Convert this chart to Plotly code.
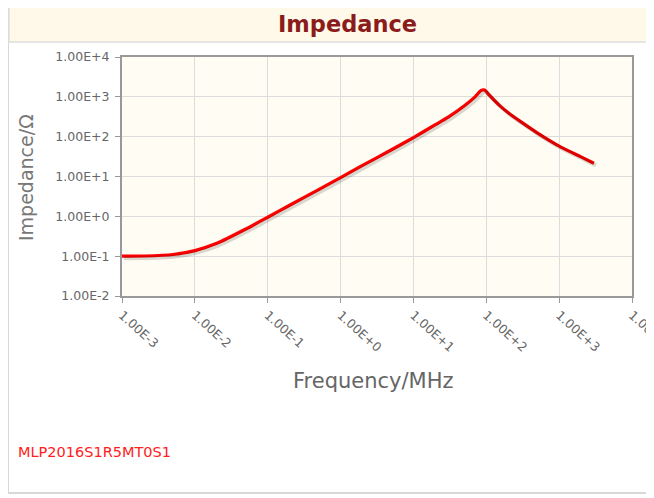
import plotly.graph_objects as go

# Data (frequency in MHz, impedance in ohm)
freq_mhz = [0.001, 0.002, 0.005, 0.01, 0.02, 0.05, 0.1, 0.2, 0.5, 1, 2, 5, 10, 20, 30,
            50, 70, 85, 95, 110, 150, 200, 300, 500, 1000, 2000, 3000]
impedance = [0.1, 0.101, 0.11, 0.138, 0.21, 0.48, 0.95, 1.9, 4.7, 9.4, 19, 47, 95, 200, 310,
             600, 1000, 1450, 1480, 1100, 620, 400, 235, 125, 58, 31, 21.5]

x_tick_vals = [1e-3, 1e-2, 1e-1, 1e0, 1e1, 1e2, 1e3, 1e4]
x_tick_text = ["1.00E-3", "1.00E-2", "1.00E-1", "1.00E+0", "1.00E+1", "1.00E+2", "1.00E+3", "1.00E+4"]
y_tick_vals = [1e-2, 1e-1, 1e0, 1e1, 1e2, 1e3, 1e4]
y_tick_text = ["1.00E-2", "1.00E-1", "1.00E+0", "1.00E+1", "1.00E+2", "1.00E+3", "1.00E+4"]

# page body has an 8px margin; work in page coordinates and compensate
OFF = 8
W, H = 700, 498
PL, PR, PT, PB = 122, 632, 57, 296   # plot area in page coordinates
L, T = PL - OFF, PT - OFF
pw, ph = PR - PL, PB - PT
R = W - L - pw
B = H - T - ph

def px(x):
    return (x - PL) / pw

def py(y):
    return (PB - y) / ph

fig = go.Figure()

# shadow trace on shifted overlay axes
dx = 2 * 7 / pw
dy = 2 * 6 / ph
fig.add_trace(go.Scatter(x=freq_mhz, y=impedance, mode="lines", xaxis="x2", yaxis="y2",
                         line=dict(color="rgba(0,0,0,0.15)", width=4, shape="spline", smoothing=0.6),
                         hoverinfo="skip", showlegend=False))
fig.add_trace(go.Scatter(x=freq_mhz, y=impedance, mode="lines",
                         line=dict(color="#ff0000", width=3.2, shape="spline", smoothing=0.6),
                         showlegend=False))

font = "DejaVu Sans, Verdana, sans-serif"

fig.update_layout(
    width=W, height=H,
    margin=dict(l=L, r=R, t=T, b=B),
    paper_bgcolor="white",
    plot_bgcolor="#fffcf3",
    font=dict(family=font, color="#666"),
    xaxis=dict(type="log", range=[-3, 4], tickvals=x_tick_vals, ticktext=x_tick_text,
               tickangle=42, tickfont=dict(size=12.5, color="#666"),
               showgrid=True, gridcolor="#dcdcdc", gridwidth=1,
               showline=True, linecolor="#999", linewidth=2, mirror=True,
               ticks="outside", ticklen=5, tickcolor="#999",
               zeroline=False),
    yaxis=dict(type="log", range=[-2, 4], tickvals=y_tick_vals, ticktext=y_tick_text,
               tickfont=dict(size=12.5, color="#666"), ticklabelstandoff=3,
               showgrid=True, gridcolor="#dcdcdc", gridwidth=1,
               showline=True, linecolor="#999", linewidth=2, mirror=True,
               ticks="outside", ticklen=5, tickcolor="#999",
               zeroline=False),
    xaxis2=dict(type="log", range=[-3 - dx, 4 - dx], overlaying="x", visible=False),
    yaxis2=dict(type="log", range=[-2 + dy, 4 + dy], overlaying="y", visible=False),
    shapes=[
        dict(type="rect", xref="paper", yref="paper", x0=px(8), x1=px(700), y0=py(493), y1=py(5),
             line=dict(color="#d8d8d8", width=2), fillcolor="rgba(0,0,0,0)", layer="below"),
        dict(type="rect", xref="paper", yref="paper", x0=px(9), x1=px(700), y0=py(42), y1=py(6),
             line=dict(color="#dedede", width=1.5), fillcolor="#fff9ea", layer="below"),
    ],
    annotations=[
        dict(text="<b>Impedance</b>", xref="paper", yref="paper", x=px(347), y=py(24),
             showarrow=False, font=dict(size=22.5, color="#8b1c1c", family=font),
             xanchor="center", yanchor="middle"),
        dict(text="Frequency/MHz", xref="paper", yref="paper", x=px(373), y=py(381),
             showarrow=False, font=dict(size=21, color="#666", family=font),
             xanchor="center", yanchor="middle"),
        dict(text="Impedance/Ω", xref="paper", yref="paper", x=px(26), y=py(178),
             showarrow=False, textangle=-90, font=dict(size=19, color="#777", family=font),
             xanchor="center", yanchor="middle"),
        dict(text="MLP2016S1R5MT0S1", xref="paper", yref="paper", x=px(16), y=py(452),
             showarrow=False, font=dict(size=14.5, color="#ff2020", family=font),
             xanchor="left", yanchor="middle"),
    ],
)

fig.write_html("out.html")
